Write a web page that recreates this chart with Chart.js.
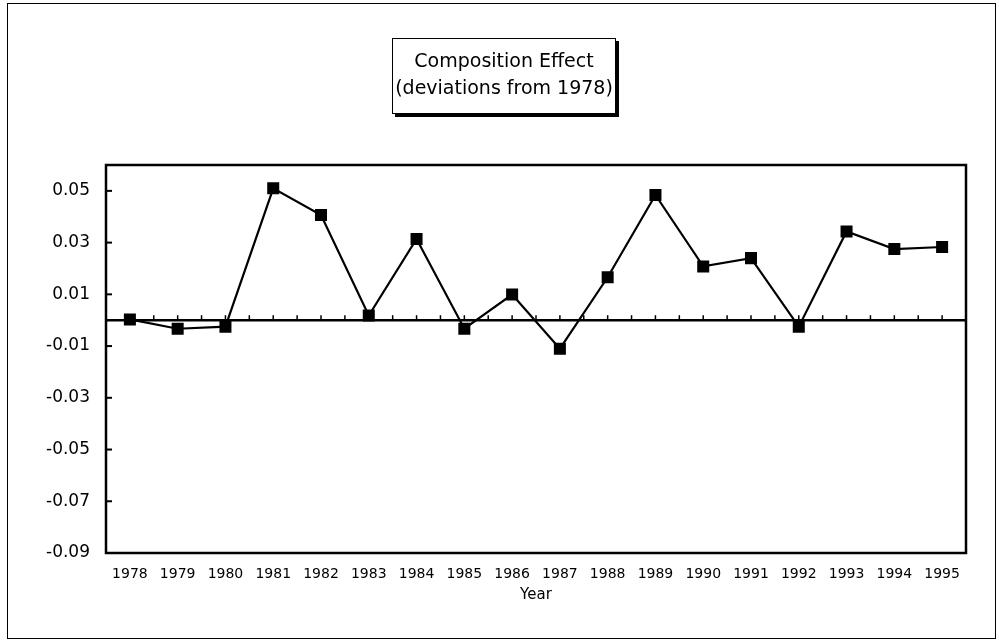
<!DOCTYPE html>
<html>
<head>
<meta charset="utf-8">
<script src="https://cdn.jsdelivr.net/npm/chart.js@4.4.0/dist/chart.umd.min.js"></script>
<style>
    html, body { margin: 0; padding: 0; background: #fff; }
    #wrap { position: relative; width: 999px; height: 642px; overflow: hidden; }
    #frame { position: absolute; left: 7px; top: 3px; width: 987px; height: 634px; border: 1px solid #000; }
    #chartTitle {
        position: absolute; left: 392px; top: 38px; width: 222px; height: 66px;
        border: 1.5px solid #000; box-shadow: 3px 3px 0 #000; background: #fff;
        font-family: "DejaVu Sans", sans-serif; font-size: 19px; line-height: 27px;
        text-align: center; color: #000; padding-top: 8px; box-sizing: content-box;
    }
    canvas { position: absolute; left: 0; top: 0; }
</style>
</head>
<body>
<div id="wrap">
    <div id="frame"></div>
    <canvas id="compChart" width="999" height="642"></canvas>
    <div id="chartTitle">Composition Effect<br>(deviations from 1978)</div>
</div>
<script>
const years = ['1978', '1979', '1980', '1981', '1982', '1983', '1984', '1985', '1986',
    '1987', '1988', '1989', '1990', '1991', '1992', '1993', '1994', '1995'];
const composition = [0.0003, -0.0033, -0.0025, 0.0510, 0.0407, 0.0018, 0.0314, -0.0033, 0.0099,
    -0.0110, 0.0166, 0.0484, 0.0208, 0.0240, -0.0025, 0.0343, 0.0275, 0.0283];
const yTicks = [-0.09, -0.07, -0.05, -0.03, -0.01, 0.01, 0.03, 0.05];
const yMin = -0.09;
const yMax = 0.06;

// marco del área, línea del cero y marcas pequeñas
const axisPlugin = {
    id: 'axisPlugin',
    beforeDatasetsDraw(chart) {
        const { ctx, chartArea: a, scales: { x, y } } = chart;
        ctx.save();
        ctx.strokeStyle = '#000';
        ctx.lineWidth = 2.5;
        ctx.strokeRect(a.left, a.top, a.right - a.left, a.bottom - a.top);

        ctx.lineWidth = 2;
        yTicks.forEach(v => {
            let py = y.getPixelForValue(v);
            ctx.beginPath();
            ctx.moveTo(a.left, py);
            ctx.lineTo(a.left + 6, py);
            ctx.stroke();
        });

        let z = y.getPixelForValue(0);
        ctx.lineWidth = 2.5;
        ctx.beginPath();
        ctx.moveTo(a.left, z);
        ctx.lineTo(a.right, z);
        ctx.stroke();

        let half = (x.getPixelForValue(1) - x.getPixelForValue(0)) / 2;
        ctx.lineWidth = 1.5;
        for (let i = 0; i < years.length; i++) {
            let px = x.getPixelForValue(i);
            [px - half, px].forEach(tx => {
                ctx.beginPath();
                ctx.moveTo(tx, z);
                ctx.lineTo(tx, z - 5);
                ctx.stroke();
            });
        }
        ctx.restore();
    }
};

new Chart(document.getElementById('compChart').getContext('2d'), {
    type: 'line',
    data: {
        labels: years,
        datasets: [{
            data: composition,
            borderColor: '#000',
            borderWidth: 2.2,
            tension: 0,
            pointStyle: 'rect',
            pointRadius: 8.5,
            pointBackgroundColor: '#000',
            pointBorderWidth: 0
        }]
    },
    options: {
        responsive: false,
        animation: false,
        layout: { padding: { top: 165, right: 33, left: 0, bottom: 0 } },
        plugins: { legend: { display: false }, tooltip: { enabled: false } },
        scales: {
            x: {
                offset: true,
                grid: { display: false, drawTicks: false },
                border: { display: false },
                ticks: { color: '#000', font: { family: 'DejaVu Sans', size: 14 }, padding: 13, maxRotation: 0, autoSkip: false },
                title: { display: true, text: 'Year', color: '#000', font: { family: 'DejaVu Sans', size: 15 }, padding: { top: 0, bottom: 38 } },
                afterFit(s) { s.height = 89; }
            },
            y: {
                min: yMin,
                max: yMax,
                afterBuildTicks(s) { s.ticks = yTicks.map(v => ({ value: v })); },
                grid: { display: false, drawTicks: false },
                border: { display: false },
                ticks: { color: '#000', font: { family: 'DejaVu Sans', size: 17 }, padding: 16, callback: v => v.toFixed(2) },
                afterFit(s) { s.width = 106; }
            }
        }
    },
    plugins: [axisPlugin]
});
</script>
</body>
</html>
